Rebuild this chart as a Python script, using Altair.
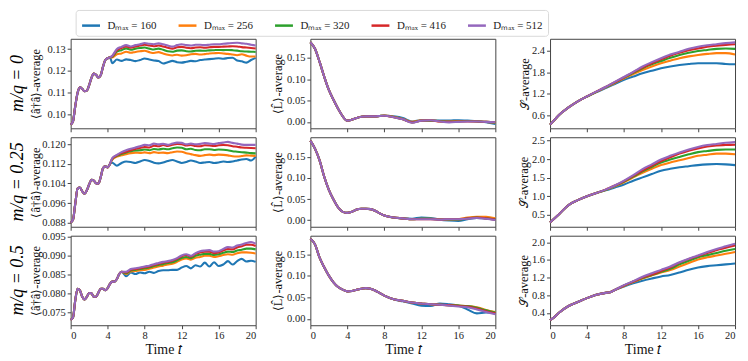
import altair as alt
import pandas as pd

SERIF = "Liberation Serif"
SERIES = ["Dₘₐₓ = 160", "Dₘₐₓ = 256", "Dₘₐₓ = 320", "Dₘₐₓ = 416", "Dₘₐₓ = 512"]
COLORS = ["#1f77b4", "#ff7f0e", "#2ca02c", "#d62728", "#9467bd"]
ROW_LABELS = ["m/q = 0", "m/q = 0.25", "m/q = 0.5"]
X_TICKS = [0, 4, 8, 12, 16, 20]

# ---------------- column 1: <a^dagger a>-average ----------------
tA_common = [0, 0.25, 0.5, 0.75, 1.0, 1.25, 1.5, 1.75, 2.0, 2.25, 2.5, 2.75, 3.0, 3.25, 3.5, 3.75, 4.0, 4.25]
vA_common = [0.0955, 0.0970, 0.1040, 0.1100, 0.1125, 0.1118, 0.1107, 0.1110, 0.1135, 0.1168, 0.1188, 0.1182,
             0.1170, 0.1180, 0.1220, 0.1250, 0.1258, 0.1262]
tA_late = [4.5, 5, 5.5, 6, 6.5, 7, 7.5, 8, 8.5, 9, 9.5, 10, 10.5, 11, 11.5, 12, 12.5, 13, 13.5, 14, 14.5, 15,
           15.5, 16, 16.5, 17, 17.5, 18, 18.5, 19, 19.5, 20]
A_160 = [0.1235, 0.1252, 0.1246, 0.1253, 0.1250, 0.1245, 0.1250, 0.1257, 0.1252, 0.1248, 0.1245, 0.1234, 0.1240,
         0.1246, 0.1240, 0.1238, 0.1242, 0.1246, 0.1244, 0.1250, 0.1252, 0.1254, 0.1256, 0.1258, 0.1256, 0.1259,
         0.1260, 0.1248, 0.1244, 0.1238, 0.1250, 0.1260]
A_256 = [0.1262, 0.1276, 0.1280, 0.1288, 0.1283, 0.1287, 0.1290, 0.1292, 0.1286, 0.1282, 0.1286, 0.1280, 0.1274,
         0.1271, 0.1274, 0.1270, 0.1272, 0.1276, 0.1278, 0.1275, 0.1277, 0.1280, 0.1281, 0.1282, 0.1280, 0.1278,
         0.1275, 0.1272, 0.1276, 0.1270, 0.1266, 0.1266]
A_320 = [0.1265, 0.1288, 0.1295, 0.1303, 0.1297, 0.1302, 0.1305, 0.1307, 0.1302, 0.1298, 0.1302, 0.1297, 0.1290,
         0.1288, 0.1293, 0.1294, 0.1290, 0.1289, 0.1292, 0.1293, 0.1292, 0.1294, 0.1295, 0.1296, 0.1295, 0.1296,
         0.1295, 0.1293, 0.1290, 0.1289, 0.1288, 0.1287]
A_416 = [0.1268, 0.1295, 0.1305, 0.1312, 0.1306, 0.1312, 0.1316, 0.1320, 0.1316, 0.1313, 0.1316, 0.1312, 0.1306,
         0.1302, 0.1308, 0.1310, 0.1306, 0.1304, 0.1307, 0.1308, 0.1306, 0.1308, 0.1310, 0.1310, 0.1311, 0.1312,
         0.1313, 0.1312, 0.1309, 0.1307, 0.1305, 0.1303]
A_512 = [0.1270, 0.1300, 0.1310, 0.1318, 0.1312, 0.1318, 0.1322, 0.1328, 0.1324, 0.1322, 0.1326, 0.1322, 0.1316,
         0.1311, 0.1318, 0.1322, 0.1318, 0.1316, 0.1320, 0.1320, 0.1318, 0.1320, 0.1322, 0.1322, 0.1324, 0.1326,
         0.1328, 0.1329, 0.1326, 0.1324, 0.1320, 0.1316]

tB_common = tA_common
vB_common = [0.0880, 0.0891, 0.0958, 0.1019, 0.1023, 0.1008, 0.0998, 0.1012, 0.1036, 0.1055, 0.1052, 0.1041,
             0.1039, 0.1066, 0.1103, 0.1110, 0.1106, 0.1120]
tB_late = tA_late
B_160 = [0.1125, 0.1113, 0.1124, 0.1130, 0.1128, 0.1124, 0.1130, 0.1136, 0.1132, 0.1125, 0.1122, 0.1126, 0.1132,
         0.1136, 0.1130, 0.1124, 0.1128, 0.1134, 0.1130, 0.1124, 0.1126, 0.1128, 0.1124, 0.1126, 0.1130, 0.1128,
         0.1130, 0.1134, 0.1138, 0.1140, 0.1134, 0.1150]
B_256 = [0.1138, 0.1150, 0.1155, 0.1160, 0.1164, 0.1166, 0.1165, 0.1167, 0.1164, 0.1168, 0.1165, 0.1166, 0.1164,
         0.1168, 0.1171, 0.1170, 0.1164, 0.1160, 0.1156, 0.1153, 0.1156, 0.1158, 0.1156, 0.1158, 0.1157, 0.1155,
         0.1151, 0.1150, 0.1152, 0.1155, 0.1154, 0.1153]
B_320 = [0.1140, 0.1153, 0.1160, 0.1167, 0.1172, 0.1175, 0.1176, 0.1179, 0.1176, 0.1181, 0.1179, 0.1182, 0.1180,
         0.1184, 0.1187, 0.1186, 0.1180, 0.1182, 0.1177, 0.1176, 0.1180, 0.1180, 0.1177, 0.1179, 0.1178, 0.1176,
         0.1172, 0.1170, 0.1168, 0.1166, 0.1164, 0.1163]
B_416 = [0.1142, 0.1155, 0.1164, 0.1170, 0.1176, 0.1181, 0.1185, 0.1189, 0.1187, 0.1194, 0.1192, 0.1197, 0.1193,
         0.1198, 0.1202, 0.1201, 0.1195, 0.1198, 0.1193, 0.1192, 0.1196, 0.1195, 0.1193, 0.1196, 0.1197, 0.1196,
         0.1192, 0.1190, 0.1187, 0.1186, 0.1185, 0.1184]
B_512 = [0.1144, 0.1157, 0.1168, 0.1176, 0.1182, 0.1187, 0.1192, 0.1198, 0.1196, 0.1203, 0.1200, 0.1202, 0.1198,
         0.1203, 0.1207, 0.1206, 0.1200, 0.1203, 0.1200, 0.1202, 0.1205, 0.1203, 0.1201, 0.1205, 0.1207, 0.1210,
         0.1206, 0.1203, 0.1199, 0.1198, 0.1198, 0.1198]

tC_common = [0, 0.25, 0.5, 0.75, 1.0, 1.25, 1.5, 1.75, 2.0, 2.25, 2.5, 2.75, 3.0, 3.25, 3.5, 3.75, 4.0, 4.25,
             4.5, 4.75, 5.0, 5.25, 5.5]
vC_common = [0.0730, 0.0736, 0.0782, 0.0812, 0.0808, 0.0791, 0.0784, 0.0791, 0.0801, 0.0800, 0.0791, 0.0791,
             0.0802, 0.0812, 0.0812, 0.0808, 0.0814, 0.0825, 0.0831, 0.0831, 0.0838, 0.0851, 0.0857]
tC_late = [6, 6.5, 7, 7.5, 8, 8.5, 9, 9.5, 10, 10.5, 11, 11.5, 12, 12.5, 13, 13.5, 14, 14.5, 15, 15.5, 16, 16.5,
           17, 17.5, 18, 18.5, 19, 19.5, 20]
C_160 = [0.0845, 0.0855, 0.0851, 0.0855, 0.0853, 0.0857, 0.0854, 0.0859, 0.0861, 0.0861, 0.0862, 0.0862, 0.0868,
         0.0872, 0.0866, 0.0874, 0.0871, 0.0881, 0.0871, 0.0882, 0.0872, 0.0876, 0.0885, 0.0876, 0.0885, 0.0891,
         0.0884, 0.0886, 0.0883]
C_256 = [0.0851, 0.0858, 0.0859, 0.0861, 0.0862, 0.0865, 0.0868, 0.0871, 0.0873, 0.0876, 0.0878, 0.0883, 0.0889,
         0.0892, 0.0889, 0.0894, 0.0896, 0.0899, 0.0899, 0.0896, 0.0898, 0.0901, 0.0903, 0.0902, 0.0906, 0.0908,
         0.0908, 0.0907, 0.0905]
C_320 = [0.0853, 0.0860, 0.0862, 0.0864, 0.0866, 0.0868, 0.0872, 0.0875, 0.0877, 0.0880, 0.0882, 0.0887, 0.0893,
         0.0896, 0.0893, 0.0899, 0.0902, 0.0904, 0.0904, 0.0901, 0.0903, 0.0907, 0.0910, 0.0909, 0.0913, 0.0915,
         0.0918, 0.0918, 0.0916]
C_416 = [0.0855, 0.0862, 0.0864, 0.0866, 0.0869, 0.0871, 0.0875, 0.0878, 0.0881, 0.0883, 0.0886, 0.0891, 0.0898,
         0.0901, 0.0897, 0.0904, 0.0908, 0.0910, 0.0910, 0.0906, 0.0908, 0.0913, 0.0917, 0.0916, 0.0921, 0.0924,
         0.0928, 0.0928, 0.0925]
C_512 = [0.0857, 0.0864, 0.0866, 0.0868, 0.0871, 0.0873, 0.0877, 0.0880, 0.0883, 0.0885, 0.0888, 0.0893, 0.0900,
         0.0903, 0.0899, 0.0906, 0.0911, 0.0913, 0.0914, 0.0910, 0.0911, 0.0917, 0.0922, 0.0921, 0.0926, 0.0929,
         0.0933, 0.0935, 0.0931]

# ---------------- column 2: <L>-average ----------------
t2_common = [0, 0.5, 1, 1.5, 2, 2.5, 3, 3.5, 4, 4.5, 5, 5.5, 6, 6.5, 7, 7.5]
t2_late = [8, 9, 10, 11, 12, 13, 14, 15, 16, 17, 18, 19, 20]
vD_common = [0.187, 0.1716, 0.1407, 0.106, 0.075, 0.052, 0.031, 0.013, 0.003, 0.0054, 0.009, 0.012, 0.013,
             0.013, 0.013, 0.014]
D_160 = [0.015, 0.013, 0.009, 0.001, 0.004, 0.003, 0.003, 0.003, 0.004, 0.003, 0.002, -0.001, -0.005]
D_256 = [0.0147, 0.012, 0.007, 0.000, 0.004, 0.003, 0.001, 0.001, 0.002, 0.002, 0.001, 0.000, -0.002]
D_320 = [0.0146, 0.0115, 0.006, -0.001, 0.003, 0.003, 0.002, 0.000, 0.001, 0.002, 0.001, 0.000, -0.002]
D_416 = [0.0145, 0.011, 0.006, -0.001, 0.003, 0.004, 0.001, 0.000, 0.001, 0.001, 0.001, 0.000, -0.001]
D_512 = [0.0145, 0.011, 0.006, -0.002, 0.003, 0.004, 0.001, -0.001, 0.000, 0.001, 0.001, 0.000, -0.001]

vE_common = [0.189, 0.170, 0.142, 0.103, 0.072, 0.049, 0.030, 0.0195, 0.017, 0.0195, 0.025, 0.027, 0.027,
             0.026, 0.022, 0.016]
E_160 = [0.011, 0.006, 0.004, 0.003, 0.006, 0.005, 0.001, -0.001, -0.002, 0.002, 0.005, 0.004, 0.001]
E_256 = [0.011, 0.006, 0.004, 0.002, 0.003, 0.003, 0.002, 0.001, 0.002, 0.006, 0.008, 0.008, 0.004]
E_320 = [0.011, 0.006, 0.004, 0.002, 0.003, 0.003, 0.001, 0.001, 0.001, 0.004, 0.006, 0.004, 0.002]
E_416 = [0.011, 0.006, 0.004, 0.002, 0.002, 0.002, 0.001, 0.002, 0.002, 0.004, 0.006, 0.004, 0.001]
E_512 = [0.011, 0.006, 0.004, 0.002, 0.002, 0.002, 0.001, 0.002, 0.002, 0.003, 0.005, 0.003, 0.000]

vF_common = [0.186, 0.173, 0.142, 0.120, 0.1005, 0.085, 0.074, 0.068, 0.064, 0.065, 0.0678, 0.070, 0.0716,
             0.070, 0.066, 0.060]
F_160 = [0.054, 0.0457, 0.041, 0.036, 0.031, 0.030, 0.036, 0.034, 0.031, 0.022, 0.013, 0.015, 0.014]
F_256 = [0.054, 0.0457, 0.042, 0.038, 0.036, 0.034, 0.033, 0.032, 0.031, 0.030, 0.027, 0.021, 0.016]
F_320 = [0.054, 0.0457, 0.042, 0.038, 0.036, 0.034, 0.033, 0.032, 0.031, 0.030, 0.026, 0.020, 0.015]
F_416 = [0.054, 0.0457, 0.042, 0.038, 0.036, 0.034, 0.033, 0.032, 0.030, 0.029, 0.024, 0.018, 0.013]
F_512 = [0.054, 0.0457, 0.042, 0.038, 0.036, 0.034, 0.033, 0.031, 0.029, 0.027, 0.022, 0.016, 0.011]

# ---------------- column 3: S-average ----------------
tG_common = [0, 0.5, 1, 2, 3, 4]
vG_common = [0.342, 0.48, 0.618, 0.82, 0.99, 1.126]
tG_late = [5, 6, 7, 8, 9, 10, 11, 12, 13, 14, 15, 16, 17, 18, 19, 20]
G_160 = [1.246, 1.357, 1.47, 1.59, 1.68, 1.77, 1.84, 1.91, 1.96, 2.00, 2.03, 2.05, 2.05, 2.05, 2.03, 2.02]
G_256 = [1.25, 1.37, 1.50, 1.63, 1.75, 1.86, 1.96, 2.05, 2.12, 2.19, 2.24, 2.28, 2.31, 2.33, 2.33, 2.29]
G_320 = [1.25, 1.38, 1.51, 1.65, 1.78, 1.91, 2.02, 2.11, 2.20, 2.28, 2.34, 2.39, 2.42, 2.45, 2.46, 2.45]
G_416 = [1.26, 1.39, 1.52, 1.66, 1.80, 1.93, 2.05, 2.16, 2.26, 2.34, 2.41, 2.46, 2.51, 2.54, 2.56, 2.58]
G_512 = [1.26, 1.39, 1.53, 1.67, 1.81, 1.96, 2.08, 2.19, 2.29, 2.37, 2.45, 2.51, 2.55, 2.58, 2.61, 2.63]

tH_common = [0, 0.5, 1, 2, 3, 4, 5]
vH_common = [0.297, 0.41, 0.526, 0.764, 0.896, 1.0, 1.09]
tH_late = [6, 7, 8, 9, 10, 11, 12, 13, 14, 15, 16, 17, 18, 19, 20]
H_160 = [1.16, 1.24, 1.32, 1.42, 1.51, 1.60, 1.69, 1.74, 1.78, 1.81, 1.84, 1.86, 1.87, 1.86, 1.84]
H_256 = [1.17, 1.27, 1.38, 1.51, 1.63, 1.74, 1.84, 1.91, 1.97, 2.03, 2.09, 2.12, 2.15, 2.15, 2.13]
H_320 = [1.17, 1.28, 1.40, 1.53, 1.67, 1.79, 1.91, 1.99, 2.06, 2.13, 2.19, 2.22, 2.25, 2.26, 2.26]
H_416 = [1.18, 1.29, 1.41, 1.55, 1.69, 1.82, 1.95, 2.05, 2.15, 2.23, 2.29, 2.34, 2.37, 2.38, 2.39]
H_512 = [1.18, 1.29, 1.42, 1.57, 1.73, 1.86, 1.99, 2.09, 2.18, 2.26, 2.33, 2.38, 2.41, 2.44, 2.46]

tI_common = [0, 0.5, 1, 2, 3, 4, 5, 6, 6.5, 7]
vI_common = [0.236, 0.31, 0.407, 0.556, 0.646, 0.735, 0.81, 0.854, 0.869, 0.92]
tI_late = [8, 9, 10, 11, 12, 13, 14, 15, 16, 17, 18, 19, 20]
I_160 = [1.00, 1.07, 1.13, 1.18, 1.226, 1.26, 1.315, 1.38, 1.43, 1.46, 1.48, 1.50, 1.52]
I_256 = [1.01, 1.10, 1.18, 1.25, 1.315, 1.37, 1.45, 1.53, 1.61, 1.66, 1.70, 1.74, 1.78]
I_320 = [1.02, 1.11, 1.19, 1.26, 1.33, 1.40, 1.50, 1.58, 1.66, 1.71, 1.76, 1.81, 1.85]
I_416 = [1.02, 1.11, 1.20, 1.27, 1.35, 1.43, 1.54, 1.62, 1.69, 1.76, 1.82, 1.88, 1.93]
I_512 = [1.03, 1.12, 1.22, 1.30, 1.375, 1.45, 1.55, 1.63, 1.70, 1.78, 1.85, 1.91, 1.97]

# axis settings per panel
Y_TICKS = {
    "A": [0.10, 0.11, 0.12, 0.13], "B": [0.088, 0.096, 0.104, 0.112, 0.120],
    "C": [0.075, 0.080, 0.085, 0.090, 0.095],
    "D": [0.0, 0.05, 0.10, 0.15], "E": [0.0, 0.05, 0.10, 0.15], "F": [0.0, 0.05, 0.10, 0.15],
    "G": [0.6, 1.2, 1.8, 2.4], "H": [0.5, 1.0, 1.5, 2.0, 2.5], "I": [0.4, 0.8, 1.2, 1.6, 2.0],
}
Y_DOMAIN = {
    "A": [0.0938, 0.1347], "B": [0.0863, 0.1229], "C": [0.0716, 0.0952],
    "D": [-0.015, 0.195], "E": [-0.016, 0.197], "F": [-0.0145, 0.193],
    "G": [0.24, 2.73], "H": [0.18, 2.59], "I": [0.12, 2.15],
}
Y_FMT = {"A": ".2f", "B": ".3f", "C": ".3f", "D": ".2f", "E": ".2f", "F": ".2f", "G": ".1f", "H": ".1f", "I": ".1f"}
Y_TITLE = {"A": "⟨â†â⟩-average", "B": "⟨â†â⟩-average", "C": "⟨â†â⟩-average",
           "D": "⟨L̂⟩-average", "E": "⟨L̂⟩-average", "F": "⟨L̂⟩-average",
           "G": "𝒮-average", "H": "𝒮-average", "I": "𝒮-average"}
TITLE_X = {"A": -35, "B": -35, "C": -35, "D": -33, "E": -33, "F": -33, "G": -26, "H": -27, "I": -27}

PANELS = {
    "A": (tA_common, vA_common, tA_late, [A_160, A_256, A_320, A_416, A_512]),
    "B": (tB_common, vB_common, tB_late, [B_160, B_256, B_320, B_416, B_512]),
    "C": (tC_common, vC_common, tC_late, [C_160, C_256, C_320, C_416, C_512]),
    "D": (t2_common, vD_common, t2_late, [D_160, D_256, D_320, D_416, D_512]),
    "E": (t2_common, vE_common, t2_late, [E_160, E_256, E_320, E_416, E_512]),
    "F": (t2_common, vF_common, t2_late, [F_160, F_256, F_320, F_416, F_512]),
    "G": (tG_common, vG_common, tG_late, [G_160, G_256, G_320, G_416, G_512]),
    "H": (tH_common, vH_common, tH_late, [H_160, H_256, H_320, H_416, H_512]),
    "I": (tI_common, vI_common, tI_late, [I_160, I_256, I_320, I_416, I_512]),
}


def make_df(key):
    tc, vc, tl, lates = PANELS[key]
    rows = []
    for name, late in zip(SERIES, lates):
        for t, v in zip(tc + tl, vc + late):
            rows.append({"t": t, "v": v, "series": name})
    return pd.DataFrame(rows)


W, H = 186, 90
AX = dict(labelFont=SERIF, labelFontSize=10.5, labelColor="#222", titleFont=SERIF, titleColor="#111",
          titleFontWeight="normal")


def panel(key, bottom, legend, row_label):
    df = make_df(key)
    if bottom:
        xaxis = alt.Axis(values=X_TICKS, format="d", title="Time 𝑡", titleFontSize=14, titlePadding=1, **AX)
    else:
        xaxis = alt.Axis(values=X_TICKS, labels=False, title=None)
    if legend:
        leg = alt.Legend(orient="none", legendX=5, legendY=-29, direction="horizontal", columns=5, title=None,
                         symbolType="stroke", symbolSize=324, symbolStrokeWidth=2.5,
                         labelFont=SERIF, labelFontSize=11, labelColor="#222", labelOffset=6,
                         strokeColor="#d9d9d9", fillColor="white", padding=5, cornerRadius=3,
                         columnPadding=16)
        color = alt.Color("series:N", scale=alt.Scale(domain=SERIES, range=COLORS), legend=leg)
    else:
        color = alt.Color("series:N", scale=alt.Scale(domain=SERIES, range=COLORS), legend=None)
    lines = alt.Chart(df).mark_line(strokeWidth=2.1, interpolate="monotone").encode(
        x=alt.X("t:Q", scale=alt.Scale(domain=[0, 20], nice=False, zero=False), axis=xaxis),
        y=alt.Y("v:Q", scale=alt.Scale(domain=Y_DOMAIN[key], nice=False, zero=False),
                axis=alt.Axis(values=Y_TICKS[key], format=Y_FMT[key], title=Y_TITLE[key],
                              titleX=TITLE_X[key], titleY=H / 2, titleAngle=270, titleFontSize=12.5,
                              titleBaseline="middle", titleAlign="center", **AX)),
        color=color,
    )
    layers = [lines]
    if row_label:
        lab = alt.Chart(pd.DataFrame({"lab": [row_label]})).mark_text(
            angle=270, font=SERIF, fontSize=18, fontStyle="italic", baseline="middle", align="center",
            color="black").encode(x=alt.value(-53), y=alt.value(H / 2), text="lab:N")
        layers.append(lab)
    return alt.layer(*layers).properties(width=W, height=H)


grid = []
order = [("A", "D", "G"), ("B", "E", "H"), ("C", "F", "I")]
for r, keys in enumerate(order):
    for c, k in enumerate(keys):
        grid.append(panel(k, bottom=(r == 2), legend=(r == 0 and c == 0),
                          row_label=ROW_LABELS[r] if c == 0 else None))

chart = alt.concat(*grid, columns=3, spacing={"row": 9, "column": 55}, bounds="flush").resolve_legend(
    color="independent"
).properties(padding=0).configure_view(stroke="#444", strokeWidth=1).configure_axis(
    domain=False, grid=False, tickColor="#444", tickSize=3.5, tickWidth=1, labelPadding=2,
)

chart.save("out.html", embed_options={"renderer": "svg", "actions": False})
